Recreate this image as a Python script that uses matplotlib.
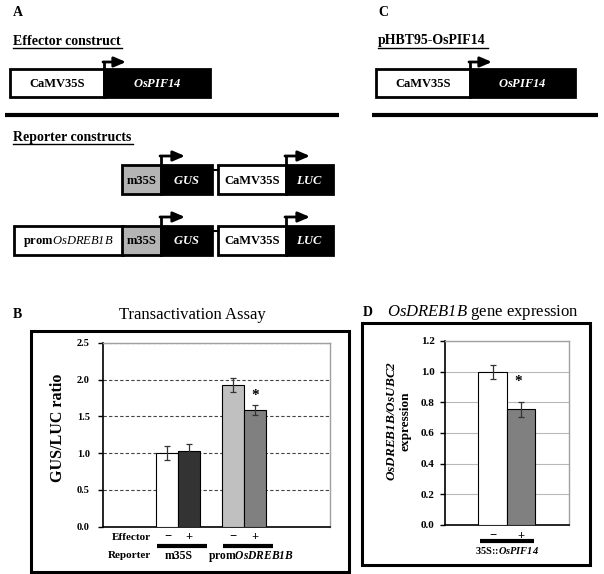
"""Figure: OsPIF14 effector / reporter constructs, transactivation assay and OsDREB1B expression."""
import matplotlib
matplotlib.use("Agg")
import matplotlib.pyplot as plt
from matplotlib.patches import Rectangle
import numpy as np

plt.rcParams["font.family"] = ["Liberation Serif", "DejaVu Serif"]
plt.rcParams["mathtext.fontset"] = "custom"
plt.rcParams["mathtext.rm"] = "Liberation Serif"
plt.rcParams["mathtext.sf"] = "Liberation Serif:italic"        # \mathsf -> italic (digits too)
plt.rcParams["mathtext.bf"] = "Liberation Serif:bold:italic"   # \mathbf -> bold italic

# panel B data
effector = ["\u2212", "+", "\u2212", "+"]
reporters = ["m35S", "promOsDREB1B"]
gus_luc = [1.00, 1.03, 1.93, 1.59]
gus_luc_err = [0.095, 0.095, 0.095, 0.07]
gus_luc_sig = [False, False, False, True]

# panel D data
expr_effector = ["\u2212", "+"]
expr = [1.00, 0.755]
expr_err = [0.045, 0.05]
expr_sig = [False, True]

W, H = 604, 574
fig = plt.figure(figsize=(W / 100, H / 100), dpi=100)
ov = fig.add_axes([0, 0, 1, 1])
ov.set_xlim(0, W)
ov.set_ylim(H, 0)
ov.axis("off")


def txt(x, y, parts, size, ha="center", color="black", **kw):
    # parts: (string, kind) with kind in rm / bf / it / bfit
    s, weight = "", "normal"
    for p, kind in parts:
        if kind == "it":
            s += r"$\mathsf{" + p + "}$"
        elif kind == "bfit":
            s += r"$\mathbf{" + p + "}$"
        else:
            s += p
            if kind == "bf":
                weight = "bold"
    return ov.text(x, y, s, fontsize=size, ha=ha, va="center", color=color, weight=weight, **kw)


def seg(x0, x1, y0, y1, fc, parts, tcolor, size=9):
    ov.add_patch(Rectangle((x0, y0), x1 - x0, y1 - y0, fc=fc, ec="black", lw=2))
    txt((x0 + x1) / 2, (y0 + y1) / 2 + 1, parts, size, color=tcolor)


def tss(x, ytop, rise=8, length=24):
    ov.plot([x, x], [ytop, ytop - rise], color="black", lw=2, solid_capstyle="butt")
    ov.annotate("", xy=(x + length, ytop - rise), xytext=(x - 1, ytop - rise),
                arrowprops=dict(arrowstyle="-|>,head_length=0.7,head_width=0.3",
                                lw=2, color="black", shrinkA=0, shrinkB=0))


def heading(x, y, s, x1, uy):
    ov.text(x, y, s, fontsize=10, weight="bold", va="baseline", ha="left")
    ov.plot([x, x1], [uy, uy], color="black", lw=1)


# ---- panel A / C schematics ----
ov.text(13, 13, "A", fontsize=10, weight="bold", va="center")
ov.text(378, 13, "C", fontsize=10, weight="bold", va="center")
heading(13, 45, "Effector construct", 122, 48)
heading(378, 44, "pHBT95-OsPIF14", 488, 47.5)
heading(13, 141, "Reporter constructs", 133, 144)

for xa, xb, xc in [(10, 104, 210), (376, 470, 575)]:
    seg(xa, xb, 69, 97, "white", [("CaMV35S", "bf")], "black")
    seg(xb, xc, 69, 97, "black", [("OsPIF14", "bfit")], "white")
    tss(xb, 69, rise=7, length=22)

ov.plot([5, 339], [115, 115], color="black", lw=3, solid_capstyle="butt")
ov.plot([372, 598], [115, 115], color="black", lw=3, solid_capstyle="butt")

for y0 in [165, 226]:
    y1 = y0 + 29
    if y0 == 226:
        seg(14, 123, y0, y1, "white", [("prom", "bf"), ("OsDREB1B", "it")], "black")
    seg(122, 161, y0, y1, "#b4b4b4", [("m35S", "bf")], "black")
    seg(161, 212, y0, y1, "black", [("GUS", "bfit")], "white")
    ov.plot([212, 218], [y0 + 5, y0 + 5], color="black", lw=1.5)
    seg(218, 286, y0, y1, "white", [("CaMV35S", "bf")], "black")
    seg(286, 333, y0, y1, "black", [("LUC", "bfit")], "white")
    tss(161, y0, rise=9, length=24)
    tss(286, y0, rise=9, length=24)

# ---- panel frames and titles ----
ov.add_patch(Rectangle((31, 331), 318, 241, fc="none", ec="black", lw=2.2))
ov.add_patch(Rectangle((362, 323), 228, 242, fc="none", ec="black", lw=2.2))
ov.text(13, 315, "B", fontsize=10, weight="bold", va="center")
ov.text(363, 312, "D", fontsize=10, weight="bold", va="center")
ov.text(192, 315, "Transactivation Assay", fontsize=12, va="center", ha="center")
txt(483, 312, [("OsDREB1B", "it"), (" gene expression", "rm")], 12)
ov.text(58, 428, "GUS/LUC ratio", fontsize=11.5, weight="bold", rotation=90,
        ha="center", va="center")
txt(392, 421, [("OsDREB1B/OsUBC2", "bfit")], 9.5, rotation=90)
ov.text(406, 421, "expression", fontsize=9.5, weight="bold", rotation=90,
        ha="center", va="center")


def style_axes(ax, ymax, step, tick_size, pad, grid_kw):
    ax.set_ylim(0, ymax)
    ticks = np.arange(0, ymax + step / 2, step)
    ax.set_yticks(ticks)
    ax.set_yticklabels([f"{t:.1f}" for t in ticks], fontsize=tick_size, weight="bold")
    ax.set_xticks([])
    ax.tick_params(axis="y", direction="out", length=3.5, width=1, pad=pad)
    for side in ["left", "bottom"]:
        ax.spines[side].set_linewidth(1.2)
    for side in ["top", "right"]:
        ax.spines[side].set_color("#a0a0a0")
        ax.spines[side].set_linewidth(1)
    ax.yaxis.grid(True, **grid_kw)
    ax.set_axisbelow(True)


def to_ov(ax, x):
    px = ax.transData.transform((x, 0))
    return ov.transData.inverted().transform(px)[0]


# ---- panel B chart ----
posB = np.array([0, 1, 3, 4])
axB = fig.add_axes([103 / W, 1 - 526.6 / H, 227 / W, 183.6 / H])
axB.bar(posB, gus_luc, width=1, color=["white", "#333333", "#c0c0c0", "#808080"],
        edgecolor="black", linewidth=0.8, yerr=gus_luc_err, capsize=2.5,
        error_kw=dict(elinewidth=0.9, ecolor="#333333", capthick=0.9), zorder=3)
axB.set_xlim(-2.93, 7.4)
style_axes(axB, 2.5, 0.5, 7.5, 6, dict(linestyle=(0, (3, 2)), color="#444444", linewidth=0.8))
for p, v, e, s in zip(posB, gus_luc, gus_luc_err, gus_luc_sig):
    if s:
        axB.text(p, v + e + 0.12, "*", ha="center", va="center", fontsize=11, weight="bold")

for p, lab in zip(posB, effector):
    txt(to_ov(axB, p), 537, [(lab, "bf")], 9)
txt(151, 537, [("Effector", "bf")], 8, ha="right")
txt(151, 556, [("Reporter", "bf")], 8, ha="right")
for grp, name in zip([posB[:2], posB[2:]], reporters):
    x0, x1 = to_ov(axB, grp[0] - 0.45), to_ov(axB, grp[1] + 0.8)
    ov.plot([x0, x1], [545.5, 545.5], color="black", lw=3, solid_capstyle="butt")
    xc = to_ov(axB, grp.mean())
    if name.startswith("prom"):
        txt(xc + 7, 556, [("prom", "bf"), (name[4:], "bfit")], 8.3)
    else:
        txt(xc, 556, [(name, "bf")], 8.5)

# ---- panel D chart ----
posD = np.array([0, 1])
axD = fig.add_axes([445 / W, 1 - 525 / H, 124 / W, 184 / H])
axD.bar(posD, expr, width=1, color=["white", "#808080"], edgecolor="black", linewidth=0.8,
        yerr=expr_err, capsize=2.5, error_kw=dict(elinewidth=0.9, ecolor="#333333", capthick=0.9),
        zorder=3)
axD.set_xlim(-1.67, 2.68)
style_axes(axD, 1.2, 0.2, 8, 4, dict(linestyle="-", color="#b8b8b8", linewidth=0.8))
for p, v, e, s in zip(posD, expr, expr_err, expr_sig):
    if s:
        axD.text(p - 0.1, v + e + 0.13, "*", ha="center", va="center", fontsize=11, weight="bold")

for p, lab in zip(posD, expr_effector):
    txt(to_ov(axD, p), 536, [(lab, "bf")], 9)
ov.plot([to_ov(axD, -0.45), to_ov(axD, 1.45)], [541, 541], color="black", lw=3,
        solid_capstyle="butt")
txt(to_ov(axD, 0.5), 550, [("35S::", "bf"), ("OsPIF14", "bfit")], 7.5)

fig.savefig("out.png", dpi=100)
